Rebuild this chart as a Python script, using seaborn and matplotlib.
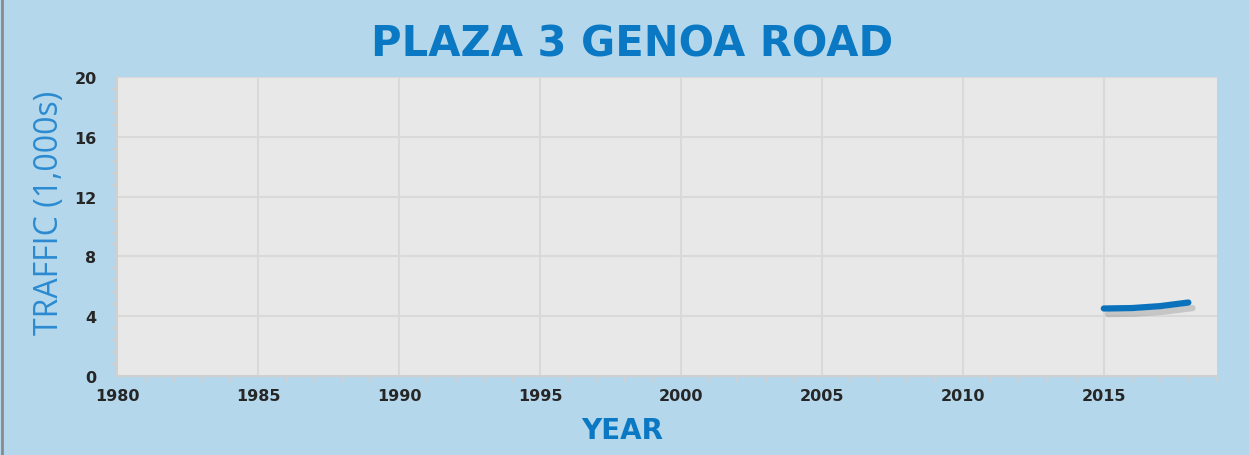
import numpy as np
import pandas as pd
import seaborn as sns
import matplotlib.pyplot as plt
import matplotlib.patheffects as pe
from matplotlib.ticker import MultipleLocator

years = [2015, 2016, 2017, 2018]
traffic = [4.52, 4.55, 4.68, 4.92]

df = pd.DataFrame({'year': years, 'traffic': traffic})

blue = '#0a78c2'
bg = '#b4d7ec'

sns.set_style('white')
plt.rcParams['font.family'] = ['Liberation Sans', 'DejaVu Sans']

fig, ax = plt.subplots(figsize=(12.49, 4.56), dpi=100)
fig.patch.set_facecolor(bg)
fig.subplots_adjust(left=0.094, right=0.974, top=0.829, bottom=0.173)
ax.set_facecolor('#e8e8e8')

sns.lineplot(x='year', y='traffic', data=df, ax=ax, color='#0a72bd', lw=4.5,
             solid_capstyle='round',
             path_effects=[pe.SimpleLineShadow(offset=(3, -4), shadow_color='#888888', alpha=0.35),
                           pe.Normal()])

ax.set_xlim(1980, 2019)
ax.set_ylim(0, 20)
ax.xaxis.set_major_locator(MultipleLocator(5))
ax.xaxis.set_minor_locator(MultipleLocator(1))
ax.yaxis.set_major_locator(MultipleLocator(4))
ax.yaxis.set_minor_locator(MultipleLocator(0.8))
ax.grid(which='major', color='#d9d9d9', lw=1.5)
ax.set_axisbelow(True)
for side in ['top', 'right']:
    ax.spines[side].set_visible(False)
for side in ['left', 'bottom']:
    ax.spines[side].set_color('#d0d0d0')
    ax.spines[side].set_linewidth(1.5)
ax.tick_params(which='both', direction='out', color='#d0d0d0', width=1.5, labelsize=12)
ax.tick_params(which='major', length=5)
ax.tick_params(which='minor', length=4, bottom=True, left=True)
ax.tick_params(axis='y', pad=10)
for lab in ax.get_xticklabels() + ax.get_yticklabels():
    lab.set_fontweight('bold')
    lab.set_family(['DejaVu Sans'])
    lab.set_fontsize(11.5)

fig.suptitle('PLAZA 3 GENOA ROAD', x=0.506, y=0.948, fontsize=30, fontweight='bold',
             color=blue, family=['DejaVu Sans'])
fig.text(0.498, 0.055, 'YEAR', ha='center', va='center', fontsize=20, fontweight='bold',
         color=blue, family=['DejaVu Sans'])
ax.set_xlabel('')
ax.set_ylabel('TRAFFIC (1,000s)', fontsize=23, color='#2b8bd0',
              family=['Open Sans', 'DejaVu Sans'])
ax.yaxis.set_label_coords(-0.047, 0.55)

fig.add_artist(plt.Line2D([0.002, 0.002], [0, 1], transform=fig.transFigure, color='#8a8a8a', lw=2))

fig.savefig('out.png', dpi=100, facecolor=fig.get_facecolor())
